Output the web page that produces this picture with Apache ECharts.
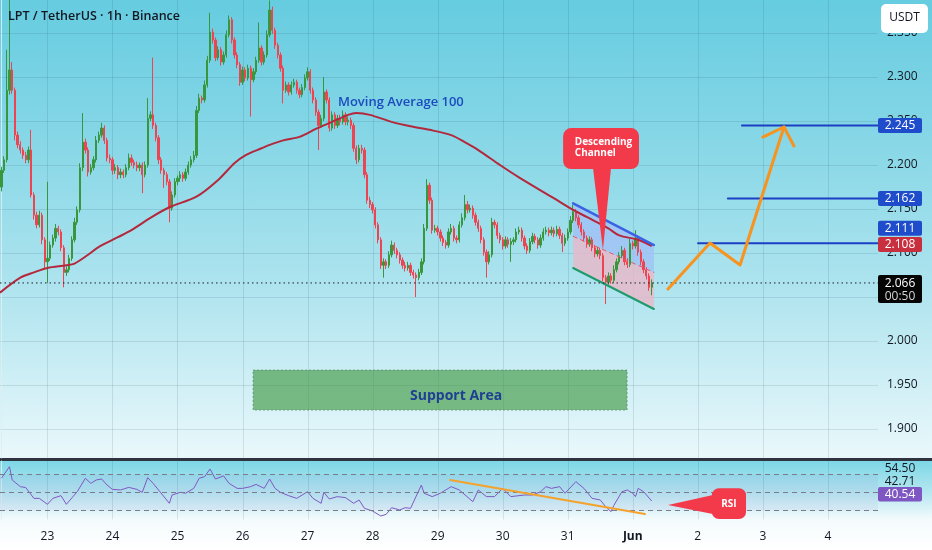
<!DOCTYPE html>
<html>
<head>
<meta charset="utf-8">
<script src="https://cdn.jsdelivr.net/npm/echarts@6/dist/echarts.min.js"></script>
<style>
html,body{margin:0;padding:0;background:#fff;}
#chart{width:932px;height:550px;
background:linear-gradient(to bottom,#66cce0 0px,#84d6e6 130px,#ace3ee 280px,#d2f0f6 390px,#eaf8fb 458px,#2f3440 458.5px,#2f3440 460.5px,#7dd7e6 461px,#b4e7f0 492px,#f4fbfd 520px,#ffffff 550px);}
</style>
</head>
<body>
<div id="chart"></div>
<script>
// ---------------- DATA ----------------
const startUTC = Date.UTC(2025, 4, 22, 7);   // first hourly slot: 22 May 07:00
const slotCount = 324;                        // hourly slots visible on the time axis
const firstOpen = 2.175;
const closes = [
 2.194,2.206,2.285,2.308,2.285,2.234,2.223,2.217,2.211,2.206,
 2.217,2.166,2.143,2.132,2.143,2.115,2.090,2.094,2.109,2.117,
 2.128,2.124,2.106,2.078,2.081,2.094,2.115,2.135,2.149,2.197,
 2.226,2.217,2.192,2.197,2.206,2.228,2.234,2.242,2.228,2.208,
 2.206,2.194,2.197,2.189,2.192,2.189,2.197,2.208,2.203,2.200,
 2.197,2.200,2.189,2.200,2.253,2.257,2.245,2.231,2.206,2.194,
 2.189,2.181,2.151,2.166,2.181,2.185,2.189,2.185,2.192,2.200,
 2.206,2.211,2.262,2.276,2.274,2.291,2.319,2.351,2.342,2.322,
 2.331,2.317,2.325,2.348,2.365,2.342,2.325,2.314,2.294,2.308,
 2.299,2.310,2.297,2.306,2.319,2.333,2.317,2.325,2.348,2.376,
 2.353,2.336,2.325,2.310,2.285,2.291,2.283,2.291,2.294,2.285,
 2.280,2.288,2.299,2.306,2.285,2.274,2.260,2.245,2.253,2.283,
 2.274,2.242,2.257,2.245,2.253,2.249,2.257,2.249,2.251,2.245,
 2.219,2.206,2.219,2.217,2.189,2.160,2.155,2.149,2.132,2.115,
 2.086,2.090,2.086,2.098,2.109,2.103,2.098,2.092,2.086,2.083,
 2.086,2.078,2.075,2.072,2.078,2.090,2.128,2.177,2.160,2.126,
 2.128,2.124,2.117,2.112,2.109,2.124,2.128,2.117,2.115,2.132,
 2.140,2.155,2.149,2.151,2.143,2.135,2.128,2.115,2.101,2.090,
 2.098,2.135,2.132,2.120,2.115,2.108,2.115,2.110,2.113,2.115,
 2.124,2.126,2.117,2.108,2.103,2.113,2.119,2.115,2.109,2.117,
 2.124,2.126,2.123,2.126,2.122,2.127,2.120,2.111,2.117,2.124,
 2.137,2.147,2.140,2.132,2.124,2.117,2.110,2.115,2.106,2.099,
 2.103,2.097,2.072,2.067,2.074,2.069,2.081,2.090,2.097,2.103,
 2.090,2.087,2.111,2.108,2.117,2.101,2.090,2.081,2.074,2.061,
 2.066
];
// upper / lower wick lengths, in thousandths of a USDT
const upperWick = [
 4,4,46,80,9,3,4,4,3,4, 4,23,3,4,5,3,3,87,4,4, 5,3,3,3,4,4,4,5,4,5,
 33,4,3,4,4,5,4,6,3,3, 4,3,4,3,4,3,4,5,4,3, 4,3,3,4,23,4,65,3,3,3,
 3,3,3,4,4,3,4,3,4,4, 4,5,5,5,3,5,5,22,4,3, 4,3,4,5,5,3,3,3,3,4,
 3,4,3,4,4,29,3,4,5,11, 4,3,3,3,3,4,3,4,4,3, 3,4,4,5,3,3,3,3,4,17,
 3,3,4,3,4,4,5,3,4,3, 3,3,4,4,3,3,4,3,3,3, 3,4,3,4,5,3,3,3,3,4,
 4,3,3,3,4,4,5,7,3,3, 4,3,3,3,3,4,5,3,3,4, 5,11,4,4,3,3,3,3,3,3,
 4,5,3,3,3,3,4,3,4,3, 4,4,3,3,3,4,4,3,3,4, 4,4,3,4,3,4,3,3,4,4,
 5,8,3,3,3,3,3,4,3,3, 4,3,3,3,4,3,5,4,4,5, 3,4,5,3,9,3,3,3,3,3,
 4
];
const lowerWick = [
 5,3,3,5,4,6,4,4,4,4, 4,3,5,4,3,5,8,24,3,3, 4,4,4,17,4,3,3,3,3,3,
 4,4,5,3,3,3,3,3,4,4, 4,5,4,5,4,4,3,3,4,4, 4,4,21,3,3,3,4,4,5,4,
 15,4,16,3,3,4,4,4,3,3, 3,3,3,3,4,3,3,3,4,4, 3,4,3,3,3,4,4,4,4,3,
 4,3,42,3,3,3,4,3,3,3, 4,4,4,4,15,3,4,3,3,4, 4,3,3,3,4,4,4,28,3,3,
 4,4,3,4,3,4,3,4,4,4, 4,5,3,4,4,4,4,4,4,4, 4,14,4,3,3,4,4,4,4,4,
 3,4,4,22,3,3,3,3,4,4, 3,4,4,4,4,3,3,4,4,3, 3,3,4,3,4,4,4,4,4,18,
 3,3,4,4,4,4,3,4,20,4, 3,3,4,4,4,3,3,4,4,3, 3,3,4,3,4,3,4,10,3,3,
 3,3,4,4,4,4,4,3,4,4, 3,4,4,25,3,4,3,3,3,3, 4,4,3,4,3,4,4,4,4,4,
 9
];
// Moving Average 100: [slot, price]
const ma100 = [
 [-0.5,2.055],[7,2.072],[12,2.078],[17,2.083],[24,2.086],[27,2.088],[32,2.098],[36,2.107],
 [43,2.118],[48,2.126],[55,2.140],[62,2.152],[72,2.164],[80,2.183],[86,2.202],[90,2.211],
 [96,2.219],[100,2.224],[104,2.228],[110,2.232],[116,2.241],[122,2.249],[128,2.257],[131,2.259],
 [136,2.257],[144,2.249],[151,2.244],[158,2.240],[166,2.234],[171,2.226],[176,2.217],[184,2.200],
 [191,2.186],[204,2.162],[211,2.149],[216,2.141],[224,2.128],[228,2.120],[235,2.115],[240,2.108]
];
// RSI: [slot, value]
const rsi = [
 [0,65.8],[3,78.7],[4,63.9],[7,56.5],[9,55.5],[12,43.5],[14,43.5],[17,36.9],[19,43.5],[22,46.5],
 [24,36.9],[28,50.9],[31,65.8],[33,60.2],[35,63.9],[37,65],[39,58.3],[41,53.5],[44,52.8],[47,55.7],
 [50,53.5],[52,50.2],[54,66.5],[56,60.2],[58,52.8],[62,38],[63,47.2],[66,50.2],[68,49.2],[71,54.6],
 [73,65.8],[75,67.6],[77,76.1],[79,65],[82,68.5],[84,60.2],[87,54.6],[89,54.6],[92,56.5],[94,59],
 [97,54.6],[99,65],[101,54.6],[103,50.2],[106,46.5],[109,43.5],[111,47.2],[113,50.9],[115,43.5],[118,38],
 [119,50.2],[121,42.8],[124,45.4],[127,44.3],[130,38],[132,41.7],[134,32.4],[137,29.4],[140,23.9],[142,25.7],
 [144,33.1],[147,30.6],[149,33.1],[151,32.4],[155,58.3],[156,49.2],[159,45.4],[162,49.2],[166,56.5],[169,52.8],
 [174,39.8],[176,52.8],[179,45.4],[182,45.4],[185,54.6],[188,45.4],[193,47.2],[196,47.2],[199,50.9],[201,56.5],
 [203,54.6],[206,56.5],[208,49.2],[212,62],[215,54.6],[218,43.5],[221,41.7],[223,34.3],[225,28.7],[226,35.6],
 [229,50.9],[231,52.8],[233,49.2],[234,45.4],[235,54.6],[237,50.9],[240,40.54]
];
const rsiBands = [70, 50, 30];
const lastPrice = 2.066;
const countdown = '00:50';
const maLast = 2.108;
const rsiSideLabels = ['54.50', '42.71'];
const rsiLast = '40.54';
// drawings (data space: [slot, price])
const channel = {
  top: [[211, 2.1565], [240.8, 2.1091]],
  mid: [[211, 2.1190], [240.8, 2.0780]],
  bot: [[211, 2.0830], [240.8, 2.0364]]
};
const channelNote = {
  text: 'Descending\nChannel',
  box: [[207.3, 2.2420], [235.3, 2.1955]],
  pointer: [[218.3, 2.1975], [225.0, 2.1975], [222.0, 2.1034]],
  textAt: [211.6, 2.2195]
};
const forecastPath = [[246.0, 2.0591], [261.5, 2.1114], [272.6, 2.0864], [288.8, 2.2432]];
const forecastHead = [[281.0, 2.2318], [288.8, 2.2432], [292.5, 2.2216]];
const levels = [
  { price: 2.245, from: 273.3 },
  { price: 2.162, from: 268.1 },
  { price: 2.111, from: 257.1 }
];
const support = { from: 92.9, to: 230.9, low: 1.9216, high: 1.9670, text: 'Support Area', textAt: [167.8, 1.9370] };
const maNote = { text: 'Moving Average 100', at: [124.2, 2.2716] };
const rsiTrend = [[165.6, 63.9], [237.5, 26.1]];
const rsiNote = { text: 'RSI', box: [[262.2, 54.7], [274.8, 20.6]], pointer: [[246.0, 36.1], [263.0, 47.5], [263.0, 25.8]], textAt: [268.5, 37.6] };

// ---------------- BUILD ----------------
const X_MIN = -0.5, X_MAX = slotCount - 0.5;
const cats = [];
for (let i = 0; i < slotCount; i++) cats.push(new Date(startUTC + i * 3600e3).toISOString().slice(0, 13));
const monthNames = ['Jan','Feb','Mar','Apr','May','Jun','Jul','Aug','Sep','Oct','Nov','Dec'];
const isMidnight = (idx, val) => val.slice(11, 13) === '00';
const midnightSlots = cats.map((v, i) => isMidnight(i, v) ? i : -1).filter(i => i >= 0);
const dayLabel = val => { const d = +val.slice(8, 10); return d === 1 ? '{m|' + monthNames[+val.slice(5, 7) - 1] + '}' : String(d); };

const candles = closes.map((c, i) => {
  const o = i === 0 ? firstOpen : closes[i - 1];
  return [o, c, Math.min(o, c) - lowerWick[i] / 1000, Math.max(o, c) + upperWick[i] / 1000];
});

const FONT = '"Open Sans", "Noto Sans", sans-serif';
const GREEN = '#38973d', RED = '#ee4452';
const gridLine = 'rgba(30,70,90,0.13)';

function vGrid(api) {
  return midnightSlots.map(s => {
    const a = api.coord([s, 0]);
    const b0 = api.coord([s, 0]);
    return a;
  });
}

function renderVGrid(params, api) {
  const size = api.size ? null : null;
  const kids = [];
  const cs = params.coordSys;
  midnightSlots.forEach(s => {
    const x = Math.round(api.coord([s, api.value(1)])[0]) + 0.5;
    kids.push({ type: 'line', shape: { x1: x, y1: cs.y, x2: x, y2: cs.y + cs.height }, style: { stroke: gridLine, lineWidth: 1 } });
  });
  return { type: 'group', children: kids };
}

function renderBelow(params, api) {
  const P = p => api.coord(p);
  const t0 = P(channel.top[0]), t1 = P(channel.top[1]);
  const m0 = P(channel.mid[0]), m1 = P(channel.mid[1]);
  const b0 = P(channel.bot[0]), b1 = P(channel.bot[1]);
  const s0 = P([support.from, support.high]), s1 = P([support.to, support.low]);
  return { type: 'group', children: [
    { type: 'polygon', shape: { points: [t0, t1, m1, m0] }, style: { fill: 'rgba(160,192,246,0.78)' } },
    { type: 'polygon', shape: { points: [m0, m1, b1, b0] }, style: { fill: 'rgba(236,182,200,0.78)' } },
    { type: 'rect', shape: { x: s0[0], y: s0[1], width: s1[0] - s0[0], height: s1[1] - s0[1] },
      style: { fill: 'rgba(60,150,60,0.62)', stroke: 'rgba(70,120,90,0.6)', lineWidth: 1, lineDash: [2, 2] } }
  ]};
}

function renderAbove(params, api) {
  const P = p => api.coord(p);
  const kids = [];
  const edge = P([X_MAX, 2])[0];
  const left = P([X_MIN, 2])[0];
  const seg = (a, b, stroke, w, dash) => ({ type: 'line', shape: { x1: a[0], y1: a[1], x2: b[0], y2: b[1] },
    style: { stroke, lineWidth: w, lineDash: dash || null, lineCap: 'round' } });
  kids.push(seg(P(channel.mid[0]), P(channel.mid[1]), '#e2596a', 1, [4, 4]));
  kids.push(seg(P(channel.top[0]), P(channel.top[1]), '#3b62e4', 2.5));
  kids.push(seg(P(channel.bot[0]), P(channel.bot[1]), '#1f9a6b', 2));
  const ly = P([0, lastPrice])[1];
  kids.push({ type: 'line', shape: { x1: left, y1: ly, x2: edge, y2: ly }, style: { stroke: '#1b1e26', lineWidth: 1, lineDash: [1.5, 3] } });
  levels.forEach(l => { const a = P([l.from, l.price]); kids.push(seg(a, [edge, a[1]], '#1d3fc4', 2)); });
  kids.push({ type: 'polyline', shape: { points: forecastPath.map(P) }, style: { stroke: '#f7931e', lineWidth: 3, fill: null, lineJoin: 'round', lineCap: 'round' } });
  kids.push({ type: 'polyline', shape: { points: forecastHead.map(P) }, style: { stroke: '#f7931e', lineWidth: 3, fill: null, lineJoin: 'round', lineCap: 'round' } });
  const c0 = P(channelNote.box[0]), c1 = P(channelNote.box[1]);
  kids.push({ type: 'polygon', shape: { points: channelNote.pointer.map(P) }, style: { fill: '#f23a4b' } });
  kids.push({ type: 'rect', shape: { x: c0[0], y: c0[1], width: c1[0] - c0[0], height: c1[1] - c0[1], r: 8 }, style: { fill: '#f23a4b' } });
  const ct = P(channelNote.textAt);
  kids.push({ type: 'text', style: { text: channelNote.text, x: ct[0], y: ct[1], fill: '#ffffff', font: 'bold 10px ' + FONT, align: 'left', verticalAlign: 'middle', lineHeight: 11 } });
  const mt = P(maNote.at);
  kids.push({ type: 'text', style: { text: maNote.text, x: mt[0], y: mt[1], fill: '#1d4bbd', font: '600 13px ' + FONT, align: 'left', verticalAlign: 'middle' } });
  const st = P(support.textAt);
  kids.push({ type: 'text', style: { text: support.text, x: st[0], y: st[1], fill: '#1f3f92', font: 'bold 14px ' + FONT, align: 'center', verticalAlign: 'middle' } });
  const tag = (price, text, bg, dy) => {
    const y = P([0, price])[1] + dy;
    kids.push({ type: 'rect', shape: { x: edge, y: y - 7.5, width: 44, height: 15, r: 2 }, style: { fill: bg } });
    kids.push({ type: 'text', style: { text, x: edge + 22, y: y + 0.5, fill: '#ffffff', font: '12px ' + FONT, align: 'center', verticalAlign: 'middle' } });
  };
  tag(levels[0].price, levels[0].price.toFixed(3), '#1f4ccb', 0);
  tag(levels[1].price, levels[1].price.toFixed(3), '#1f4ccb', 0);
  tag(levels[2].price, levels[2].price.toFixed(3), '#1f4ccb', -15);
  tag(maLast, maLast.toFixed(3), '#c9303f', -1.5);
  kids.push({ type: 'rect', shape: { x: edge, y: ly - 8, width: 44, height: 28, r: 2 }, style: { fill: '#050505' } });
  kids.push({ type: 'text', style: { text: lastPrice.toFixed(3), x: edge + 22, y: ly + 1, fill: '#ffffff', font: '12px ' + FONT, align: 'center', verticalAlign: 'middle' } });
  kids.push({ type: 'text', style: { text: countdown, x: edge + 22, y: ly + 14, fill: '#d6d6d6', font: '12px ' + FONT, align: 'center', verticalAlign: 'middle' } });
  return { type: 'group', children: kids };
}

function renderRsi(params, api) {
  const P = p => api.coord(p);
  const t0 = P(rsiTrend[0]), t1 = P(rsiTrend[1]);
  const b0 = P(rsiNote.box[0]), b1 = P(rsiNote.box[1]);
  const tt = P(rsiNote.textAt);
  return { type: 'group', children: [
    { type: 'line', shape: { x1: t0[0], y1: t0[1], x2: t1[0], y2: t1[1] }, style: { stroke: '#f4a22c', lineWidth: 2, lineCap: 'round' } },
    { type: 'polygon', shape: { points: rsiNote.pointer.map(P) }, style: { fill: '#f23a4b' } },
    { type: 'rect', shape: { x: b0[0], y: b0[1], width: b1[0] - b0[0], height: b1[1] - b0[1], r: 7 }, style: { fill: '#f23a4b' } },
    { type: 'text', style: { text: rsiNote.text, x: tt[0], y: tt[1], fill: '#ffffff', font: 'bold 10px ' + FONT, align: 'center', verticalAlign: 'middle' } }
  ]};
}

const chart = echarts.init(document.getElementById('chart'), null, { renderer: 'canvas' });
chart.setOption({
  animation: false,
  backgroundColor: 'transparent',
  textStyle: { fontFamily: FONT },
  grid: [
    { left: 0, right: 54, top: 0, height: 458 },
    { left: 0, right: 54, top: 461, height: 58.5 }
  ],
  xAxis: [
    { type: 'category', gridIndex: 0, data: cats, boundaryGap: true,
      axisLine: { show: false }, axisTick: { show: false }, axisLabel: { show: false }, splitLine: { show: false } },
    { type: 'value', gridIndex: 0, min: X_MIN, max: X_MAX, show: false },
    { type: 'category', gridIndex: 1, data: cats, boundaryGap: true,
      axisLine: { show: false }, axisTick: { show: false },
      axisLabel: { show: true, interval: isMidnight, formatter: dayLabel, color: '#131722', fontSize: 12, margin: 11, fontFamily: FONT,
        rich: { m: { fontWeight: 'bold', fontSize: 12, color: '#131722', fontFamily: FONT } } },
      splitLine: { show: false } },
    { type: 'value', gridIndex: 1, min: X_MIN, max: X_MAX, show: false }
  ],
  yAxis: [
    { type: 'value', gridIndex: 0, position: 'right', min: 1.8648 + 0.0023, max: 2.3875,
      splitNumber: 10, minInterval: 0.05, maxInterval: 0.05,
      axisLine: { show: true, lineStyle: { color: 'rgba(220,238,242,0.9)' } }, axisTick: { show: false },
      axisLabel: { color: '#131722', fontSize: 12, margin: 9, fontFamily: FONT, showMinLabel: false, showMaxLabel: false, formatter: v => v.toFixed(3) },
      splitLine: { show: true, showMinLine: false, showMaxLine: false, lineStyle: { color: gridLine, width: 1 } } },
    { type: 'value', gridIndex: 1, position: 'right', min: 20, max: 85,
      axisLine: { show: true, lineStyle: { color: 'rgba(220,238,242,0.9)' } }, axisTick: { show: false },
      axisLabel: { show: false }, splitLine: { show: false } }
  ],
  series: [
    { type: 'custom', name: 'grid-main', xAxisIndex: 1, yAxisIndex: 0, data: [[0, 2]], renderItem: renderVGrid, silent: true, z: 0 },
    { type: 'custom', name: 'grid-rsi', xAxisIndex: 3, yAxisIndex: 1, data: [[0, 50]], renderItem: renderVGrid, silent: true, z: 0 },
    { type: 'custom', name: 'drawings-below', xAxisIndex: 1, yAxisIndex: 0, data: [[0, 2]], renderItem: renderBelow, silent: true, z: 1, clip: false },
    { type: 'candlestick', name: 'LPTUSDT', xAxisIndex: 0, yAxisIndex: 0, data: candles, barWidth: 1.8, z: 3,
      itemStyle: { color: GREEN, color0: RED, borderColor: GREEN, borderColor0: RED, borderWidth: 1 } },
    { type: 'line', name: 'MA100', xAxisIndex: 1, yAxisIndex: 0, data: ma100, smooth: 0.3, symbol: 'none', z: 4,
      lineStyle: { color: '#b3283c', width: 2 } },
    { type: 'custom', name: 'drawings-above', xAxisIndex: 1, yAxisIndex: 0, data: [[0, 2]], renderItem: renderAbove, silent: true, z: 10, clip: false },
    { type: 'line', name: 'RSI', xAxisIndex: 3, yAxisIndex: 1, data: rsi, symbol: 'none', z: 4,
      lineStyle: { color: '#7e57c2', width: 1 },
      markLine: { silent: true, symbol: 'none', label: { show: false },
        lineStyle: { color: '#7a7e88', type: [5, 4], width: 1 }, data: rsiBands.map(v => ({ yAxis: v })) },
      markArea: { silent: true, itemStyle: { color: 'rgba(126,87,194,0.07)' }, data: [[{ yAxis: rsiBands[2] }, { yAxis: rsiBands[0] }]] } },
    { type: 'custom', name: 'rsi-drawings', xAxisIndex: 3, yAxisIndex: 1, data: [[0, 50]], renderItem: renderRsi, silent: true, z: 10, clip: false }
  ],
  graphic: [
    { type: 'text', x: 8, y: 16, z: 100, style: { text: 'LPT / TetherUS · 1h · Binance', fill: '#131722', font: '600 12.5px ' + FONT, align: 'left', verticalAlign: 'middle' } },
    { type: 'rect', z: 100, shape: { x: 881, y: 4, width: 47, height: 29, r: 5 }, style: { fill: '#ffffff' } },
    { type: 'text', x: 904.5, y: 17.5, z: 101, style: { text: 'USDT', fill: '#131722', font: '12px ' + FONT, align: 'center', verticalAlign: 'middle' } },
    { type: 'text', x: 900, y: 469, z: 100, style: { text: rsiSideLabels[0], fill: '#131722', font: '12px ' + FONT, align: 'center', verticalAlign: 'middle' } },
    { type: 'text', x: 900, y: 482, z: 100, style: { text: rsiSideLabels[1], fill: '#131722', font: '12px ' + FONT, align: 'center', verticalAlign: 'middle' } },
    { type: 'rect', z: 100, shape: { x: 878, y: 487, width: 44, height: 14.5, r: 2 }, style: { fill: '#7e57c2' } },
    { type: 'text', x: 900, y: 494.5, z: 101, style: { text: rsiLast, fill: '#ffffff', font: '12px ' + FONT, align: 'center', verticalAlign: 'middle' } }
  ]
});
</script>
</body>
</html>
